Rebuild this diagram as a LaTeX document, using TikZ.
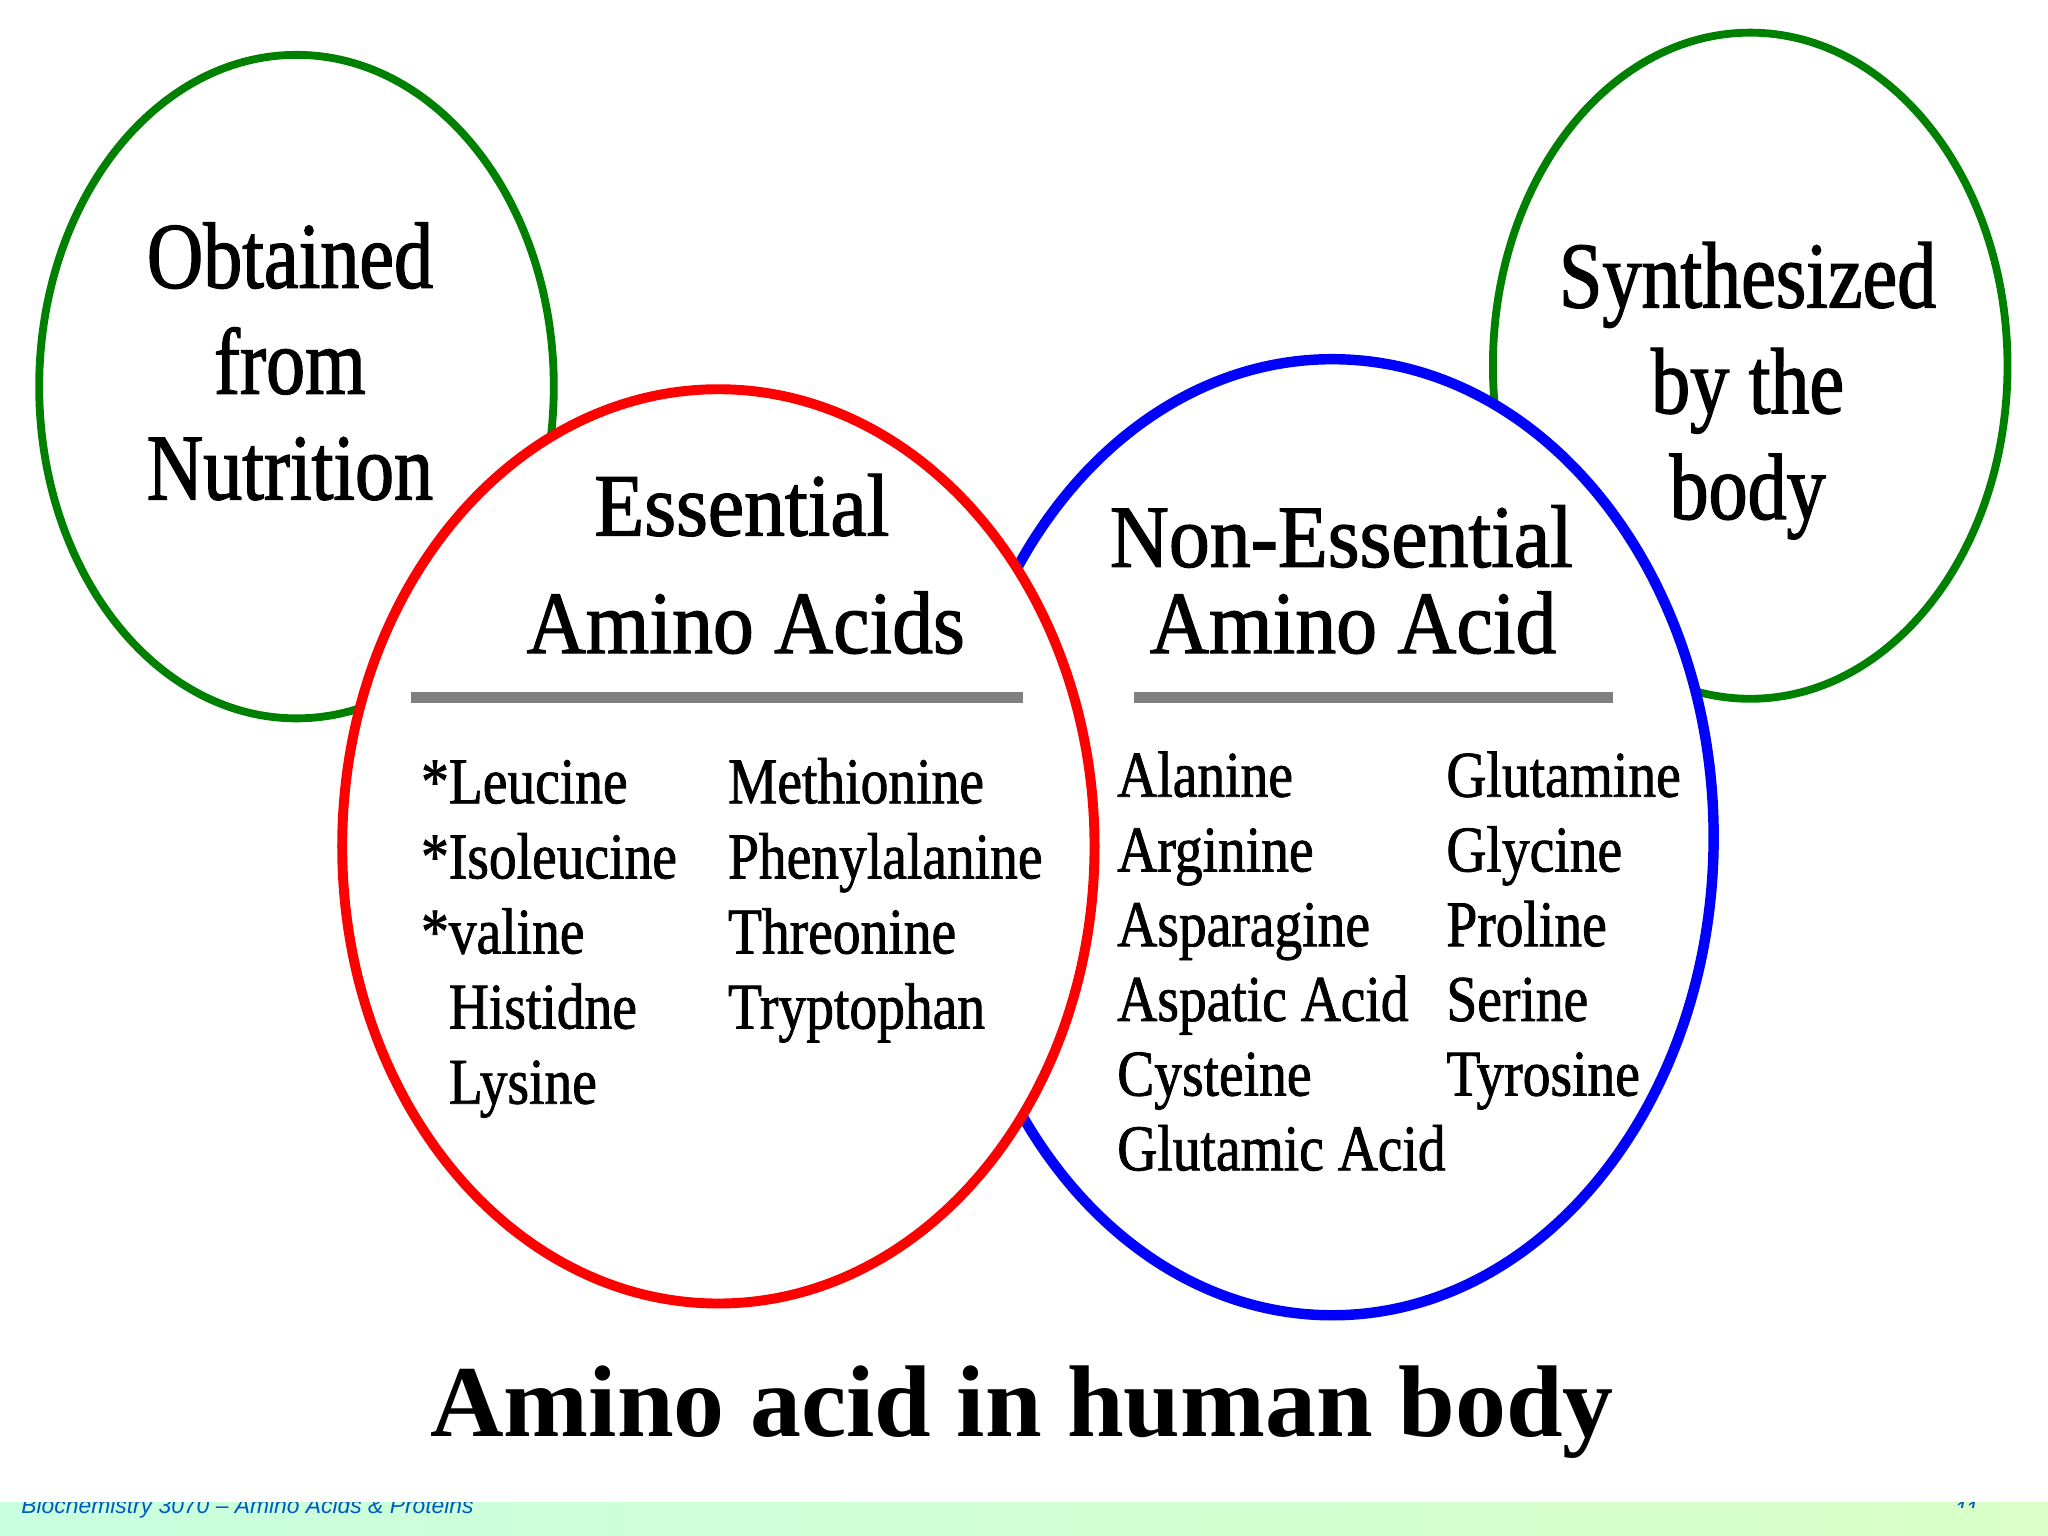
\documentclass[tikz,border=0pt]{standalone}
\usepackage{xcolor}
\usepackage{fontspec}
\usepackage{tikz}

\setmainfont{Liberation Serif}
\newfontfamily\ovalfont{Liberation Serif}[FakeStretch=0.83, FakeBold=1.4]
\newfontfamily\headfont{Liberation Serif}[FakeStretch=0.92, FakeBold=1.4]
\newfontfamily\listfont{Liberation Serif}[FakeStretch=0.85, FakeBold=1.2]
\newfontfamily\footfont{Liberation Sans}

\definecolor{ovalgreen}{RGB}{0,128,0}
\definecolor{footblue}{RGB}{0,90,190}
\definecolor{bandleft}{RGB}{200,255,222}
\definecolor{bandright}{RGB}{218,255,200}

\tikzset{
  oval/.style={line width=3pt},
  ovaltext/.style={align=center, inner sep=0pt, anchor=north,
    font=\ovalfont\fontsize{36}{40.5}\selectfont},
  headtext/.style={inner sep=0pt, anchor=base,
    font=\headfont\fontsize{34}{40}\selectfont},
  listtext/.style={inner sep=0pt, anchor=base west,
    font=\listfont\fontsize{25}{28}\selectfont},
  rulebar/.style={line width=4pt, color=gray},
  foottext/.style={inner sep=0pt, anchor=base west, text=footblue,
    font=\footfont\itshape\fontsize{8.75}{10}\selectfont},
}

\begin{document}
\begin{tikzpicture}[x=50pt,y=50pt]
             \useasboundingbox (0,0) rectangle (15.68,-11.76);
             \fill[white] (0,0) rectangle (15.68,-11.76);

             % outer groups
             \draw[oval, ovalgreen] (2.27,-2.96) ellipse [x radius=1.97, y radius=2.54];
             \draw[oval, ovalgreen] (13.40,-2.80) ellipse [x radius=1.97, y radius=2.55];
             \node[ovaltext] (nutrition) at (2.22,-1.70) {Obtained\\from\\Nutrition};
             \node[ovaltext] (synth) at (13.38,-1.85) {Synthesized\\by the\\body};

             % the two amino acid groups
             \draw[line width=4pt, blue, fill=white] (10.20,-6.41) ellipse [x radius=2.92, y radius=3.66];
             \draw[line width=3.8pt, red, fill=white] (5.50,-6.48) ellipse [x radius=2.88, y radius=3.50];

             \node[headtext] (ess1) at (5.68,-4.10) {Essential};
             \node[headtext] (ess2) at (5.71,-5.00) {Amino Acids};
             \node[headtext] (ness1) at (10.27,-4.34) {Non-Essential};
             \node[headtext] (ness2) at (10.36,-5.00) {Amino Acid};

             \draw[rulebar] (3.15,-5.34) -- (7.83,-5.34);
             \draw[rulebar] (8.68,-5.34) -- (12.35,-5.34);

             % lists
             \foreach \aa [count=\i] in {*Leucine, *Isoleucine, *valine, \phantom{*}Histidne, \phantom{*}Lysine}
               \node[listtext] (ess-a\i) at (3.22,{-6.15-0.575*(\i-1)}) {\aa};
             \foreach \aa [count=\i] in {Methionine, Phenylalanine, Threonine, Tryptophan}
               \node[listtext] (ess-b\i) at (5.57,{-6.15-0.575*(\i-1)}) {\aa};
             \foreach \aa [count=\i] in {Alanine, Arginine, Asparagine, Aspatic Acid, Cysteine, Glutamic Acid}
               \node[listtext] (ness-a\i) at (8.55,{-6.10-0.572*(\i-1)}) {\aa};
             \foreach \aa [count=\i] in {Glutamine, Glycine, Proline, Serine, Tyrosine}
               \node[listtext] (ness-b\i) at (11.07,{-6.10-0.572*(\i-1)}) {\aa};

             % title
             \node[inner sep=0pt, anchor=base, font=\bfseries\fontsize{39}{44}\selectfont]
               (title) at (7.825,-11.00) {Amino acid in human body};

             % footer band
             \shade[left color=bandleft, right color=bandright] (0,-11.50) rectangle (15.68,-11.76);
             \begin{scope}
               \clip (0,-11.50) rectangle (15.68,-11.76);
               \node[foottext] (footer) at (0.16,-11.585) {Biochemistry 3070 – Amino Acids \& Proteins};
             \end{scope}
             \begin{scope}
               \clip (0,-11.50) rectangle (15.68,-11.545);
               \node[foottext] (slideno) at (14.96,-11.62) {11};
             \end{scope}
\end{tikzpicture}
\end{document}
